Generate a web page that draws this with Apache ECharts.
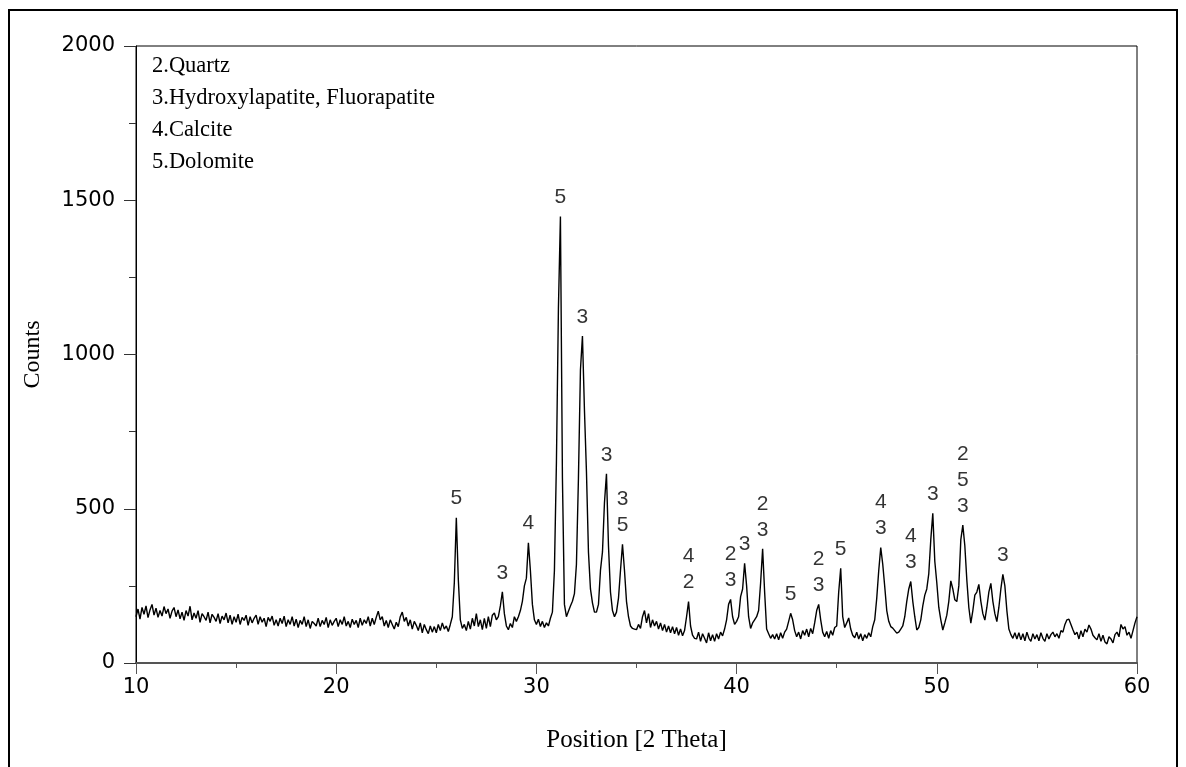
<!DOCTYPE html>
<html>
<head>
<meta charset="utf-8">
<script src="https://cdn.jsdelivr.net/npm/echarts@6/dist/echarts.min.js"></script>
<style>
  html, body { margin: 0; padding: 0; background: #fff; }
  #xrd { width: 1186px; height: 767px; }
</style>
</head>
<body>
<div id="xrd"></div>
<script>
// scan starts at 10 deg, one reading every 0.1 deg (one row = one degree)
var startAngle = 10
var stepAngle = 0.1
var counts = [
  150,175,142,180,158,185,147,172,190,155, // 10
  178,148,170,152,183,160,175,145,168,180, // 11
  150,172,143,165,138,170,152,184,140,162, // 12
  145,170,132,160,150,138,165,130,158,148, // 13
  135,160,128,152,140,162,130,155,125,150, // 14
  132,158,125,148,138,155,122,150,130,145, // 15
  155,125,150,132,145,118,148,135,152,122, // 16
  140,120,145,128,152,118,140,125,150,120, // 17
  142,115,138,125,150,118,140,112,135,128, // 18
  120,145,118,138,125,148,115,140,122,135, // 19
  145,118,140,125,150,120,135,115,142,125, // 20
  138,115,145,122,140,128,150,120,145,125, // 21
  148,168,140,150,120,138,115,140,125,110, // 22
  132,118,150,165,135,148,120,140,110,135, // 23
  122,105,130,98,125,108,95,120,100,118,   // 24
  98,125,105,130,110,120,102,125,150,260,  // 25
  471,270,140,112,125,105,135,110,145,120, // 26
  160,118,140,108,145,112,150,118,155,162, // 27
  140,150,185,231,160,120,108,128,115,150, // 28
  135,150,170,200,250,275,390,300,190,140, // 29
  125,142,118,135,115,130,120,145,165,300, // 30
  650,1150,1447,600,190,150,168,185,200,225, // 31
  320,600,950,1060,820,620,360,240,195,165, // 32
  165,190,300,360,520,613,380,230,170,150, // 33
  165,210,300,385,300,200,150,120,112,110, // 34
  108,125,112,150,170,130,160,115,140,120, // 35
  135,110,130,105,125,100,120,98,118,95,   // 36
  115,90,110,88,105,150,199,120,90,80,     // 37
  78,100,70,95,80,65,98,72,92,70,          // 38
  95,78,100,88,110,140,190,206,150,125,    // 39
  135,150,215,240,323,250,150,112,130,140, // 40
  150,170,260,370,230,110,95,80,92,78,     // 41
  95,75,98,80,100,110,135,161,140,105,     // 42
  85,100,78,105,90,110,85,112,95,130,      // 43
  170,190,140,100,85,102,80,105,90,115,    // 44
  120,230,307,150,115,130,146,110,90,82,   // 45
  100,78,95,72,92,80,98,85,118,140,        // 46
  210,300,374,320,247,170,135,118,113,105, // 47
  97,100,110,120,150,200,240,264,200,150,  // 48
  107,115,140,185,220,240,290,400,485,330, // 49
  260,180,140,107,130,155,200,266,240,205, // 50
  199,250,400,447,380,269,180,129,170,220, // 51
  230,255,200,160,139,180,230,258,200,160, // 52
  134,180,240,287,250,170,110,92,80,98,    // 53
  78,98,75,95,72,100,80,70,95,78,          // 54
  92,72,98,80,70,95,78,92,100,85,          // 55
  95,80,105,100,125,140,142,125,108,92,    // 56
  100,78,105,85,110,100,123,110,90,82,     // 57
  75,95,70,90,68,62,85,78,65,92,           // 58
  100,85,125,110,118,90,100,80,105,130,    // 59
  150                                      // 60
]

// phase numbers written over the peaks
var peakAngles = [26.0, 28.3, 29.6, 31.2, 32.3, 33.5, 34.3, 37.6, 39.7, 40.4,
  41.3, 42.7, 44.1, 45.2, 47.2, 48.7, 49.8, 51.3, 53.3]
var peakTags = ["5", "3", "4", "5", "3", "3", "3\n5", "4\n2", "2\n3", "3",
  "2\n3", "5", "2\n3", "5", "4\n3", "4\n3", "3", "2\n5\n3", "3"]

var phaseLegend = ["2.Quartz", "3.Hydroxylapatite, Fluorapatite", "4.Calcite", "5.Dolomite"]

var xTicks = { min: 10, max: 60, interval: 10 }
var yTicks = { min: 0, max: 2000, interval: 500 }

var pattern = counts.map(function (c, i) {
  return [+(startAngle + i * stepAngle).toFixed(1), c]
})

function countAt(angle) {
  return counts[Math.round((angle - startAngle) / stepAngle)]
}

var peakMarks = peakAngles.map(function (a, i) {
  return [a, countAt(a), peakTags[i]]
})

var chart = echarts.init(document.getElementById("xrd"))

var option = {
  animation: false,
  backgroundColor: "#fff",
  grid: {
    left: 136,
    right: 49,
    top: 46,
    bottom: 104,
    show: true,
    borderColor: "#000",
    borderWidth: 1
  },
  xAxis: {
    type: "value",
    min: xTicks.min,
    max: xTicks.max,
    interval: xTicks.interval,
    name: "Position [2 Theta]",
    nameLocation: "middle",
    nameGap: 65,
    nameTextStyle: { fontFamily: "Liberation Serif", fontSize: 25, color: "#000" },
    axisLine: { lineStyle: { color: "#555", width: 2 } },
    axisTick: { length: 11, lineStyle: { color: "#555", width: 1 } },
    minorTick: { show: true, splitNumber: 2, length: 5, lineStyle: { color: "#555" } },
    axisLabel: { margin: 14, fontFamily: "DejaVu Sans", fontSize: 21, color: "#000" },
    splitLine: { show: false }
  },
  yAxis: {
    type: "value",
    min: yTicks.min,
    max: yTicks.max,
    interval: yTicks.interval,
    name: "Counts",
    nameLocation: "middle",
    nameGap: 91,
    nameTextStyle: { fontFamily: "Liberation Serif", fontSize: 24, color: "#000" },
    axisLine: { show: true, lineStyle: { color: "#000", width: 1 } },
    axisTick: { show: true, length: 12, lineStyle: { color: "#333" } },
    minorTick: { show: true, splitNumber: 2, length: 7, lineStyle: { color: "#333" } },
    axisLabel: {
      margin: 21,
      fontFamily: "DejaVu Sans",
      fontSize: 21,
      color: "#000",
      formatter: function (v) { return String(v) }
    },
    splitLine: { show: false }
  },
  graphic: [
    {
      type: "rect",
      silent: true,
      shape: { x: 9, y: 10, width: 1168, height: 790 },
      style: { fill: null, stroke: "#000", lineWidth: 2 }
    },
    {
      type: "text",
      left: 152,
      top: 50,
      silent: true,
      style: {
        text: phaseLegend.join("\n"),
        font: "22.5px 'Liberation Serif'",
        lineHeight: 32,
        fill: "#000"
      }
    }
  ],
  series: [
    {
      type: "line",
      data: pattern,
      showSymbol: false,
      lineStyle: { color: "#000", width: 1.4 },
      z: 3
    },
    {
      type: "scatter",
      data: peakMarks,
      symbolSize: 0,
      silent: true,
      label: {
        show: true,
        position: "top",
        distance: 6,
        formatter: function (p) { return p.value[2] },
        fontFamily: "Liberation Sans",
        fontSize: 21,
        lineHeight: 26,
        color: "#000"
      },
      z: 4
    }
  ]
}

chart.setOption(option)
</script>
</body>
</html>
